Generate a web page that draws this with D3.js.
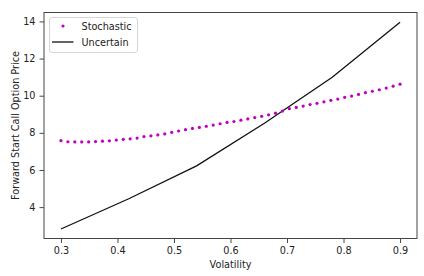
<!DOCTYPE html>
<html><head><meta charset="utf-8">
<script src="https://cdn.jsdelivr.net/npm/d3@7"></script>
<style>body{margin:0;background:#fff}svg{display:block}text{font-family:"DejaVu Sans",sans-serif;fill:#222}</style>
</head><body><svg id="c" width="424" height="276"></svg>
<script>
const stochX = d3.range(50).map(i => 0.3 + i * 0.6 / 49);
const stochastic = [7.58,7.52,7.51,7.51,7.51,7.53,7.55,7.57,7.61,7.65,7.68,7.72,7.80,7.84,7.89,7.94,8.03,
  8.10,8.17,8.24,8.29,8.35,8.42,8.49,8.56,8.61,8.68,8.75,8.82,8.89,8.97,9.06,9.17,
  9.30,9.37,9.44,9.52,9.59,9.67,9.75,9.82,9.91,9.98,10.07,10.16,10.24,10.32,10.41,10.51,10.62];
const uncX = [0.3,0.42,0.54,0.66,0.78,0.9];
const uncertain = [2.82,4.45,6.22,8.52,10.99,13.95];
const xTicks = [0.3,0.4,0.5,0.6,0.7,0.8,0.9];
const yTicks = [4,6,8,10,12,14];
const labels = ["Stochastic","Uncertain"];

const svg = d3.select("#c");
const L=44, R=417, T=12.5, B=238.5;
const x = d3.scaleLinear().domain([0.27,0.93]).range([L,R]);
const y = d3.scaleLinear().domain([2.31,14.48]).range([B,T]);

const xa = svg.append("g").attr("transform",`translate(0,${B})`)
  .call(d3.axisBottom(x).tickValues(xTicks).tickFormat(d3.format(".1f")).tickSize(4.5).tickPadding(4));
const ya = svg.append("g").attr("transform",`translate(${L},0)`)
  .call(d3.axisLeft(y).tickValues(yTicks).tickFormat(d3.format("d")).tickSize(4.5).tickPadding(4));
[xa,ya].forEach(a=>{a.select(".domain").remove();a.selectAll("line").attr("stroke","#333").attr("stroke-width",0.9);
  a.selectAll("text").style("font-family","DejaVu Sans").style("font-size","9.7px").attr("fill","#262626");});

svg.append("rect").attr("x",L).attr("y",T).attr("width",R-L).attr("height",B-T)
  .attr("fill","none").attr("stroke","#444").attr("stroke-width",1);

svg.append("path").datum(uncX.map((v,i)=>[v,uncertain[i]]))
  .attr("d",d3.line().x(d=>x(d[0])).y(d=>y(d[1])))
  .attr("fill","none").attr("stroke","#111").attr("stroke-width",1.3);

svg.append("g").selectAll("circle").data(stochX.map((v,i)=>[v,stochastic[i]])).join("circle")
  .attr("cx",d=>x(d[0])).attr("cy",d=>y(d[1])).attr("r",1.6).attr("fill","#bf00bf");

svg.append("text").attr("x",(L+R)/2).attr("y",268).attr("text-anchor","middle")
  .style("font-size","9.7px").text("Volatility");
svg.append("text").attr("transform",`translate(19,${(T+B)/2}) rotate(-90)`).attr("text-anchor","middle")
  .style("font-size","9.7px").text("Forward Start Call Option Price");

const lg = svg.append("g");
lg.append("rect").attr("x",49.5).attr("y",17.5).attr("width",88).attr("height",35).attr("rx",2.5)
  .attr("fill","#fff").attr("fill-opacity",0.8).attr("stroke","#d6d6d6").attr("stroke-width",1);
lg.append("circle").attr("cx",63).attr("cy",26).attr("r",1.6).attr("fill","#bf00bf");
lg.append("line").attr("x1",52).attr("x2",73.5).attr("y1",42).attr("y2",42).attr("stroke","#111").attr("stroke-width",1.3);
lg.selectAll("text.l").data(labels).join("text").attr("class","l").attr("x",81.5).attr("y",(d,i)=>29.5+i*16)
  .style("font-size","9.7px").text(d=>d);
</script></body></html>
